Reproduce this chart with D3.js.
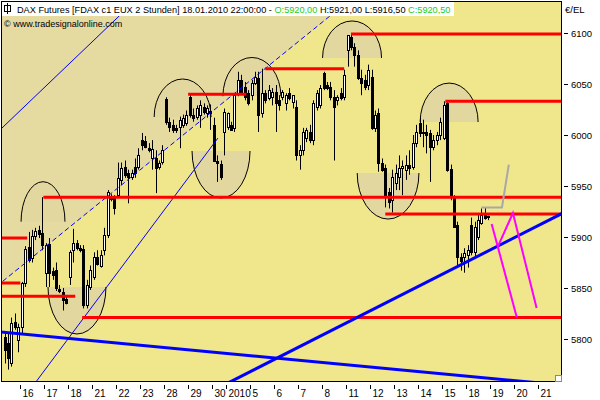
<!DOCTYPE html>
<html><head><meta charset="utf-8">
<script src="https://cdn.jsdelivr.net/npm/d3@7"></script>
<style>body{margin:0;background:#fff}svg{display:block;font-family:"Liberation Sans",Arial,sans-serif}</style>
</head><body><svg id="c" width="600" height="400"></svg>
<script>
// ---- DATA ----
const opens=[5802,5796,5776,5817,5799,5812,5855,5890,5879,5901,
5907,5904,5865,5893,5867,5868,5849,5846,5839,5861,
5887,5894,5889,5888,5833,5851,5861,5880,5872,5887,
5902,5939,5938,5941,5956,5969,5963,5959,5969,5969,
5995,5994,5987,5977,5977,5969,5974,6035,6013,6010,
6007,6008,6010,6012,6037,6020,6018,6020,6027,6022,
6024,6010,5975,5972,6003,6008,6010,6007,6041,6054,
6047,6041,6039,6051,6056,6022,6041,6036,6037,6042,
6034,6037,6031,6041,6032,6027,5980,5985,5997,6003,
5995,6027,6029,6061,6049,6047,6037,6034,6041,6037,
6083,6096,6086,6078,6056,6054,6049,6057,6007,6022,
5973,5968,5944,5936,5953,5959,5968,5966,5971,5969,
5992,6012,6002,6003,6002,5988,5995,6000,5997,6031,
5967,5939,5912,5880,5880,5882,5912,5885,5900,5914,
5922,5920];
const highs=[5806,5806,5821,5825,5815,5856,5891,5905,5907,5909,
5911,5939,5894,5899,5870,5875,5853,5850,5842,5887,
5908,5897,5892,5892,5858,5872,5885,5887,5887,5909,
5946,5942,5941,5973,5973,5975,5966,5966,5977,5987,
6002,5999,5992,5995,5985,5975,5990,6037,6017,6015,
6010,6018,6020,6024,6041,6026,6029,6034,6031,6029,
6030,6017,5980,5975,6026,6022,6013,6041,6062,6059,
6052,6044,6054,6062,6062,6065,6044,6049,6046,6049,
6039,6044,6041,6046,6039,6034,5990,6007,6007,6010,
6034,6044,6049,6062,6052,6052,6044,6039,6046,6064,
6097,6099,6090,6083,6064,6059,6069,6064,6024,6026,
5977,5971,5948,5966,5971,5980,5975,5980,5985,6000,
6010,6017,6015,6010,6005,6000,6003,6017,6033,6033,
5971,5941,5915,5884,5889,5892,5919,5915,5922,5928,
5929,5921];
const lows=[5776,5770,5773,5809,5787,5804,5851,5875,5875,5897,
5899,5887,5851,5851,5858,5847,5845,5828,5834,5853,
5875,5887,5885,5830,5830,5848,5858,5872,5870,5882,
5899,5935,5922,5939,5951,5958,5933,5956,5958,5966,
5985,5987,5983,5966,5943,5966,5971,6010,6003,6002,
6002,5987,6007,6009,6017,6013,6015,6007,6020,6017,
6005,5974,5954,5956,5980,6005,6005,6003,6038,6042,
6034,6029,6034,6049,6003,6017,6031,6034,6029,6003,
6024,6034,6024,6034,6026,5975,5966,5980,5993,5992,
5990,6024,6026,6044,6044,6034,5975,6029,6034,6034,
6067,6083,6067,6054,6039,6044,6044,6005,6003,5964,
5964,5929,5928,5924,5946,5946,5941,5956,5961,5966,
5988,5998,5988,5982,5954,5985,5990,5995,5995,5964,
5936,5909,5872,5867,5865,5870,5882,5879,5897,5912,
5917,5916.5];
const closes=[5789,5781,5816,5812,5812,5855,5888,5877,5901,5906,
5903,5892,5892,5865,5863,5850,5847,5838,5835,5885,
5894,5889,5887,5833,5853,5868,5880,5874,5882,5902,
5944,5937,5928,5958,5968,5961,5959,5963,5963,5980,
5990,5988,5985,5986,5968,5973,5985,6013,6008,6005,
6005,6015,6017,6020,6020,6017,6026,6029,6023,6026,
6022,5975,5973,5959,6023,6022,6005,6039,6054,6042,
6037,6031,6051,6057,6020,6041,6034,6044,6042,6031,
6029,6042,6039,6036,6039,5980,5985,6003,6005,5995,
6031,6041,6046,6046,6046,6037,6027,6037,6036,6059,
6098,6086,6078,6056,6051,6047,6064,6007,6020,5973,
5966,5941,5934,5959,5963,5968,5970,5971,5968,5992,
6003,6002,6003,6000,5988,5995,6000,6013,6029,5966,
5939,5910,5880,5876,5884,5887,5885,5910,5917,5922,
5919,5920.5];
const dayLabels=["16","17","18","21","22","23","28","29","30","2010","5","6","7","8","11","12","13","14","15","18","19","20","21"];
const dayStart=[5,12,19,26,33,40,47,54,61,65,72,79,86,93,100,107,114,121,128,135,142,149,156];
const priceTicks=[5800,5850,5900,5950,6000,6050,6100];
const levelPrice=[6099,6065,6040,6033,5939,5922.5,5899,5855,5842,5821];
const levelStart=[101,76,53.5,128.5,11.3,111,-1.3,-1.3,-1.3,22.6];
const levelEnd=[null,99,70.5,null,null,null,6.6,4.6,20.6,null];
const ellBar=[11.2,21.1,51.9,63.1,72.1,101.3,111.8,129.6];
const ellPrice=[5915,5851,6017.6,5984.3,6038,6075.5,5962.7,6012.7];
const ellRx=[6.4,8.45,8.3,8.45,8.45,8.6,9.0,8.45];
const ellRy=[39.2,46.1,37.3,46.1,38,36.3,45.1,38.2];
const ellUpper=[true,false,true,false,true,true,false,true];
const thickLine1=[[0,5806.5],[140,5762]];
const thickLine2=[[70,5765.2],[150,5901.7]];
const thinLine=[[9.15,5758],[62.2,5997]];
const dashLine=[[-0.76,5856],[80.3,6077]];
const upperLine=[[-1.34,6005],[36,6125]];
const grayLine=[[139,5929],[145,5929],[147,5971]];
const magenta1=[[142,5912.7],[149.3,5821.6]];
const magenta2=[[143.8,5890.5],[148.2,5923.5],[155.1,5830.4]];

// ---- CHART ----
const svg=d3.select("#c");
const L=1.5,R=561.5,T=1.5,B=381.5;
const x=d3.scaleLinear().domain([0,141]).range([4.6,4.6+141*3.43]);
const y=d3.scaleLinear().domain([5800,6100]).range([339,33]);
svg.append("rect").attr("x",L).attr("y",T).attr("width",R-L).attr("height",B-T).attr("fill","#F0E68C");
svg.append("clipPath").attr("id","cp").append("rect").attr("x",L).attr("y",T).attr("width",R-L).attr("height",B-T);
const g=svg.append("g").attr("clip-path","url(#cp)");
const line=d3.line().x(d=>x(d[0])).y(d=>y(d[1]));
function ext(p){
  const [a,b]=p; const s=(b[1]-a[1])/(b[0]-a[0]);
  const x0=x.invert(L-5), x1=x.invert(R+5);
  return [[x0,a[1]+s*(x0-a[0])],[x1,a[1]+s*(x1-a[0])]];
}
{
  const d1=ext(dashLine);
  const top=y.invert(T-5);
  g.append("path").attr("d",line([d1[0],d1[1],[d1[1][0],top],[d1[0][0],top]])+"Z").attr("fill","#E5DAA0");
}
ellBar.forEach((b,i)=>{
  const cx=x(b), cy=y(ellPrice[i]), rx=x(b+ellRx[i])-cx, ry=y(ellPrice[i]-ellRy[i])-cy;
  const sweep=ellUpper[i]?1:0;
  g.append("path").attr("d",`M${cx-rx},${cy}A${rx},${ry} 0 0 ${sweep} ${cx+rx},${cy}Z`).attr("fill","#E2D89F").attr("stroke","none");
  g.append("path").attr("d",`M${cx-rx},${cy}A${rx},${ry} 0 0 ${sweep} ${cx+rx},${cy}`).attr("fill","none").attr("stroke","#000").attr("stroke-width",1);
});
const idx=d3.range(opens.length);
const cg=g.append("g");
idx.forEach(i=>{
  const cx=Math.round(x(i));
  cg.append("line").attr("x1",cx+0.5).attr("x2",cx+0.5).attr("y1",y(highs[i])).attr("y2",y(lows[i])).attr("stroke","#000").attr("stroke-width",1);
  const top=Math.round(y(Math.max(opens[i],closes[i]))), bot=Math.round(y(Math.min(opens[i],closes[i])));
  cg.append("rect").attr("x",cx-0.5).attr("y",top+0.5).attr("width",2).attr("height",Math.max(bot-top,0.01))
    .attr("fill",closes[i]>=opens[i]?"#fff":"#000").attr("stroke","#000").attr("stroke-width",1);
});
g.append("path").attr("d",line(ext(dashLine))).attr("stroke","#0000FF").attr("stroke-width",1).attr("stroke-dasharray","5,3").attr("fill","none");
g.append("path").attr("d",line(ext(upperLine))).attr("stroke","#0000FF").attr("stroke-width",1).attr("fill","none");
g.append("path").attr("d",line(thinLine)).attr("stroke","#0000FF").attr("stroke-width",1).attr("fill","none");
levelPrice.forEach((p,i)=>{
  const x1=levelEnd[i]==null?R:x(levelEnd[i]);
  g.append("line").attr("x1",x(levelStart[i])).attr("x2",x1).attr("y1",y(p)).attr("y2",y(p)).attr("stroke","#FF0000").attr("stroke-width",3);
});
g.append("path").attr("d",line(ext(thickLine1))).attr("stroke","#0000FF").attr("stroke-width",3).attr("fill","none");
g.append("path").attr("d",line(ext(thickLine2))).attr("stroke","#0000FF").attr("stroke-width",3).attr("fill","none");
g.append("path").attr("d",line(grayLine)).attr("stroke","#A8A8A8").attr("stroke-width",2).attr("fill","none");
g.append("path").attr("d",line(magenta1)).attr("stroke","#FF00FF").attr("stroke-width",2).attr("fill","none");
g.append("path").attr("d",line(magenta2)).attr("stroke","#FF00FF").attr("stroke-width",2).attr("fill","none");
svg.append("rect").attr("x",L).attr("y",T).attr("width",R-L).attr("height",B-T).attr("fill","none").attr("stroke","#000");
priceTicks.forEach(p=>{
  svg.append("line").attr("x1",564).attr("x2",568).attr("y1",Math.round(y(p))+0.5).attr("y2",Math.round(y(p))+0.5).attr("stroke","#000");
  svg.append("text").attr("x",571).attr("y",y(p)+3.5).attr("font-size",9.5).text(p);
});
svg.append("text").attr("x",565).attr("y",13).attr("font-size",9.5).text("€/EL");
dayStart.forEach((s,i)=>{
  const tx=Math.round(x(s)-1.7)+0.5;
  svg.append("line").attr("x1",tx).attr("x2",tx).attr("y1",385).attr("y2",389).attr("stroke","#000");
  svg.append("text").attr("x",tx+2).attr("y",397).attr("font-size",10).text(dayLabels[i]);
});
svg.append("rect").attr("x",555.5).attr("y",375.5).attr("width",6).attr("height",6).attr("fill","#fff").attr("stroke","#888");
svg.append("rect").attr("x",2).attr("y",2).attr("width",452).attr("height",14).attr("fill","#fff");
svg.append("rect").attr("x",4.5).attr("y",5.5).attr("width",6).attr("height",6).attr("fill","none").attr("stroke","#000");
svg.append("line").attr("x1",7.5).attr("x2",7.5).attr("y1",3).attr("y2",14).attr("stroke","#000");
const ht=svg.append("text").attr("x",17).attr("y",12.5).attr("font-size",10);
ht.append("tspan").attr("fill","#000").text("DAX Futures [FDAX c1 EUX  2 Stunden] 18.01.2010 22:00:00 - ");
ht.append("tspan").attr("fill","#22CC22").text("O:5920,00");
ht.append("tspan").attr("fill","#000").text(" H:5921,00 L:5916,50 ");
ht.append("tspan").attr("fill","#22CC22").text("C:5920,50");
const w=ht.node().getComputedTextLength(); ht.attr("font-size",10*434/w);
svg.append("text").attr("x",4).attr("y",27).attr("font-size",9).text("© www.tradesignalonline.com");
</script></body></html>
